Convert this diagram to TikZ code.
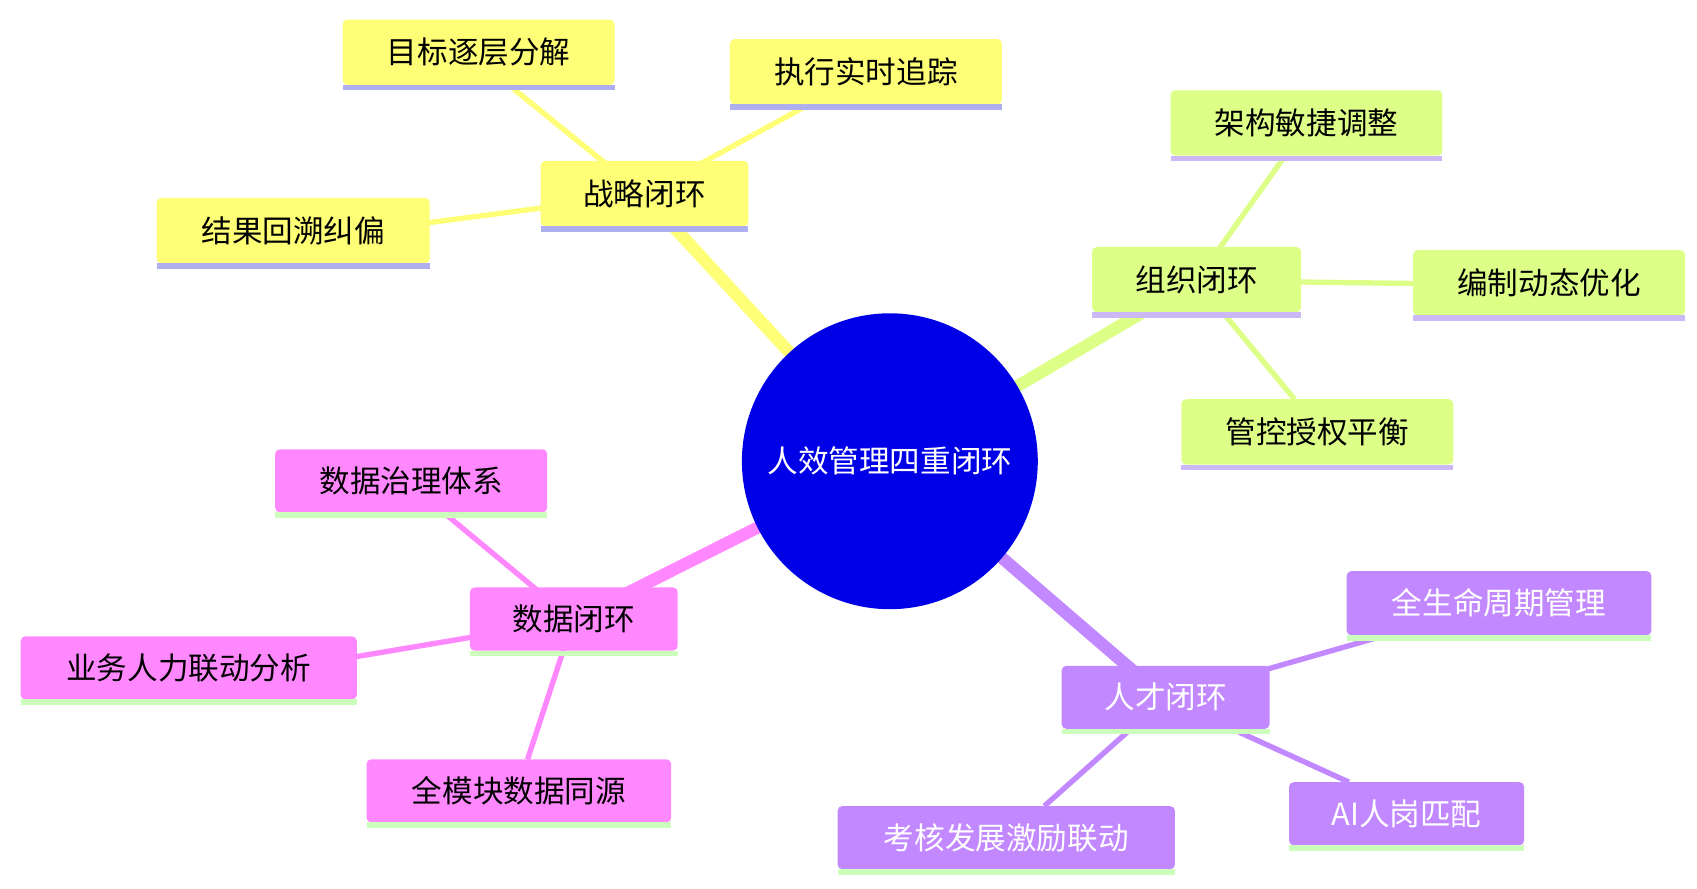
\documentclass[tikz,border=0pt]{standalone}
\usepackage{fontspec}
\newfontfamily\cjk{Noto Sans CJK SC}
\definecolor{cy}{HTML}{FFFF77}
\definecolor{cg}{HTML}{DDFF88}
\definecolor{cp}{HTML}{C288FF}
\definecolor{cpk}{HTML}{FF88FF}
\definecolor{lb}{HTML}{AFAFF0}
\definecolor{lg}{HTML}{CCFFBB}
\definecolor{lp}{HTML}{CCB8F5}
\definecolor{cc}{HTML}{0000E6}
\begin{document}
\begin{tikzpicture}[x=0.05cm,y=-0.05cm,
  txt/.style={font=\cjk\fontsize{40pt}{44pt}\selectfont},
  bx/.style={txt,inner sep=0pt,rounded corners=4pt}]
\useasboundingbox (0,0) rectangle (1560,817);
\newcommand\bb[7]{%
  \fill[#6,rounded corners=6pt] (#2,#3) rectangle (#4,#5);
  \fill[#7] (#2,#5) rectangle (#4,#5+5);
  \coordinate (#1) at ({(#2+#4)/2},{(#3+#5)/2});}
\newcommand\tx[3]{\node[txt,text=#2] at (#1) {#3};}
\coordinate (c) at (818,424);
\coordinate (s) at (592,179);\coordinate (o) at (1100,258);
\coordinate (t) at (1071,642);\coordinate (d) at (527,570);
\draw[cy,line width=16pt] (c)--(s);
\draw[cg,line width=16pt] (c)--(o);
\draw[cp,line width=16pt] (c)--(t);
\draw[cpk,line width=16pt] (c)--(d);
\draw[cy,line width=7pt] (s)--(470,80) (s)--(740,98) (s)--(330,213);
\draw[cg,line width=7pt] (o)--(1180,145) (o)--(1330,261) (o)--(1190,367);
\draw[cp,line width=7pt] (t)--(1270,585) (t)--(1240,719) (t)--(960,741);
\draw[cpk,line width=7pt] (d)--(410,473) (d)--(260,615) (d)--(485,698);
\fill[cc] (c) circle (136);
\node[txt,text=white] at (c) {人效管理四重闭环};
\bb{s}{497}{148}{688}{208}{cy}{lb}\tx{s}{black}{战略闭环}
\bb{s1}{315}{18}{565}{78}{cy}{lb}\tx{s1}{black}{目标逐层分解}
\bb{s2}{671}{36}{921}{96}{cy}{lb}\tx{s2}{black}{执行实时追踪}
\bb{s3}{144}{182}{395}{242}{cy}{lb}\tx{s3}{black}{结果回溯纠偏}
\bb{o}{1004}{227}{1196}{287}{cg}{lp}\tx{o}{black}{组织闭环}
\bb{o1}{1076}{83}{1326}{143}{cg}{lp}\tx{o1}{black}{架构敏捷调整}
\bb{o2}{1299}{230}{1549}{290}{cg}{lp}\tx{o2}{black}{编制动态优化}
\bb{o3}{1086}{367}{1336}{427}{cg}{lp}\tx{o3}{black}{管控授权平衡}
\bb{t}{976}{612}{1167}{670}{cp}{lg}\tx{t}{white}{人才闭环}
\bb{t1}{1238}{525}{1518}{584}{cp}{lg}\tx{t1}{white}{全生命周期管理}
\bb{t2}{1185}{719}{1401}{777}{cp}{lg}\tx{t2}{white}{AI人岗匹配}
\bb{t3}{770}{741}{1080}{799}{cp}{lg}\tx{t3}{white}{考核发展激励联动}
\bb{d}{432}{540}{623}{598}{cpk}{lg}\tx{d}{black}{数据闭环}
\bb{d1}{253}{413}{503}{471}{cpk}{lg}\tx{d1}{black}{数据治理体系}
\bb{d2}{19}{585}{328}{643}{cpk}{lg}\tx{d2}{black}{业务人力联动分析}
\bb{d3}{337}{698}{617}{756}{cpk}{lg}\tx{d3}{black}{全模块数据同源}
\end{tikzpicture}
\end{document}
